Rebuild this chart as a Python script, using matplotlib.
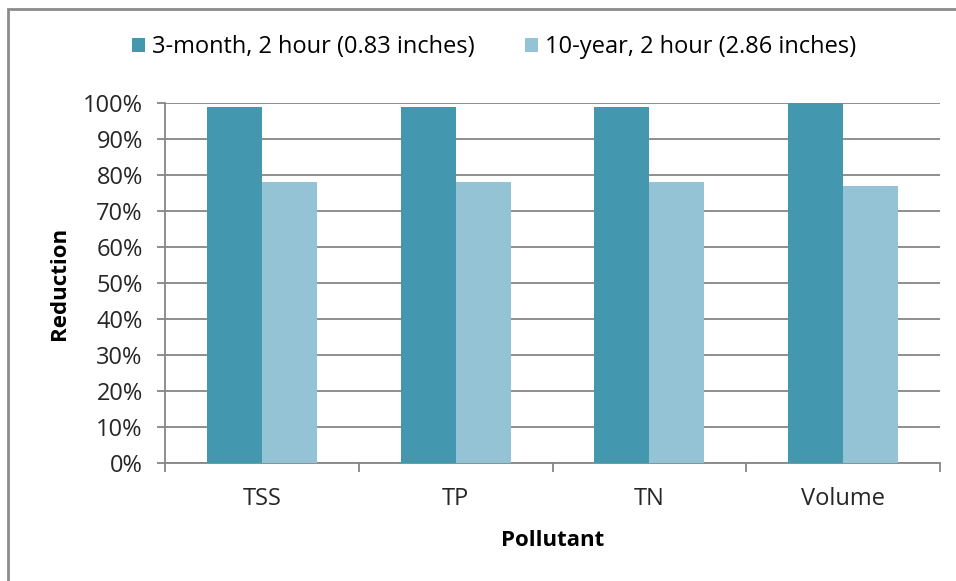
import matplotlib
matplotlib.use("Agg")
import matplotlib.pyplot as plt
from matplotlib.patches import Rectangle
from matplotlib.ticker import PercentFormatter, MultipleLocator
import numpy as np

plt.rcParams['font.family'] = ['Open Sans', 'DejaVu Sans']

pollutants = ["TSS", "TP", "TN", "Volume"]
series_names = ["3-month, 2 hour (0.83 inches)", "10-year, 2 hour (2.86 inches)"]
storm_3month = [99, 99, 99, 100]
storm_10year = [78, 78, 78, 77]
colors = ["#4397AE", "#93C3D5"]

fs = 17        # tick labels and legend
fs_bold = 16   # axis titles
fig = plt.figure(figsize=(9.56, 5.81), dpi=100)
ax = fig.add_axes([165 / 956, 1 - 463 / 581, (940 - 165) / 956, (463 - 103) / 581])

x = np.arange(len(pollutants))
w = 0.284
ax.bar(x - w / 2, storm_3month, width=w, color=colors[0], label=series_names[0], zorder=3)
ax.bar(x + w / 2, storm_10year, width=w, color=colors[1], label=series_names[1], zorder=3)

ax.set_xlim(-0.5, len(pollutants) - 0.5)
ax.set_ylim(0, 100)
ax.yaxis.set_major_locator(MultipleLocator(10))
ax.yaxis.set_major_formatter(PercentFormatter(decimals=0))
ax.grid(axis='y', color='#868686', linewidth=1.3, zorder=0)
ax.set_axisbelow(True)

ax.set_xticks(x)
ax.set_xticklabels(pollutants)
# category boundary ticks on the x axis
ax.set_xticks(np.arange(len(pollutants) + 1) - 0.5, minor=True)
ax.tick_params(axis='x', which='major', length=0, pad=17, labelsize=fs, colors='#262626')
ax.tick_params(axis='x', which='minor', length=6.5, color='#868686', width=1.3)
ax.tick_params(axis='y', length=6, width=1.3, labelsize=fs, pad=10, colors='#868686',
               labelcolor='#262626')

for side in ('top', 'right'):
    ax.spines[side].set_visible(False)
for side in ('left', 'bottom'):
    ax.spines[side].set_color('#868686')
    ax.spines[side].set_linewidth(1.3)

ax.set_ylabel("Reduction", fontsize=fs_bold, fontweight='bold', labelpad=9)
ax.set_xlabel("Pollutant", fontsize=fs_bold, fontweight='bold', labelpad=14)

fig.legend(loc='center', bbox_to_anchor=(494 / 956, 1 - 47 / 581), ncol=2, frameon=False,
           fontsize=fs, handlelength=0.55, handleheight=0.55, columnspacing=2.1, handletextpad=0.3)

# outer chart border
fig.patches.append(Rectangle((8 / 956, -0.1), 1.2, 1 - 9 / 581 + 0.1, transform=fig.transFigure,
                             fill=False, edgecolor='#8c8c8c', linewidth=2))

fig.savefig("out.png", dpi=100, facecolor='white')
